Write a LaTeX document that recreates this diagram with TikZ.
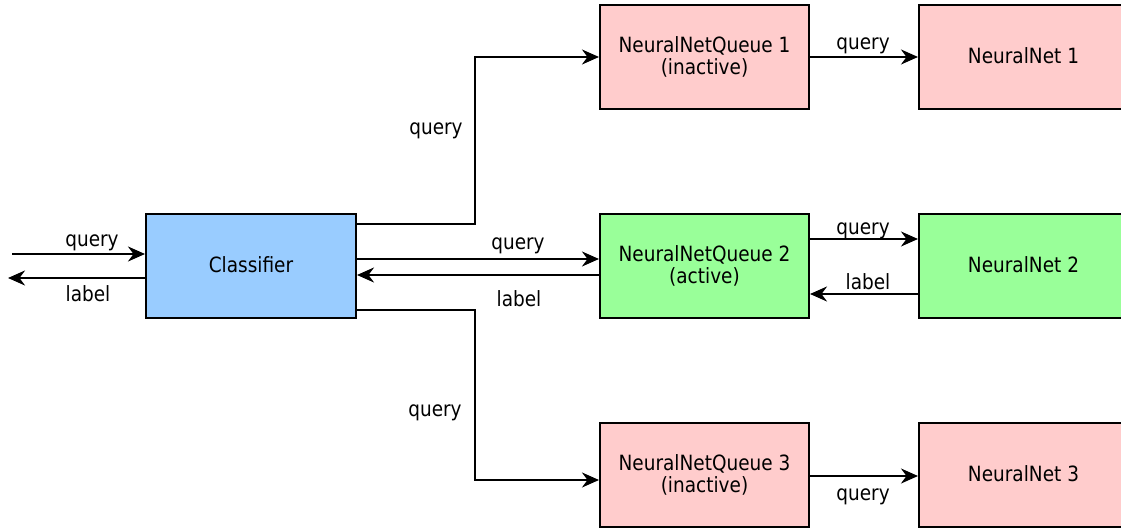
\documentclass[tikz,border=0pt]{standalone}
\usepackage{fontspec}
\setmainfont{DejaVu Sans}[FakeStretch=0.88]
\usetikzlibrary{arrows.meta}
\definecolor{inactivebox}{HTML}{FFCCCC}
\definecolor{activebox}{HTML}{99FF99}
\definecolor{classbox}{HTML}{99CCFF}
\tikzset{
  box/.style={draw=black, line width=2pt, minimum width=209pt, minimum height=104pt,
    inner sep=0pt, align=center, font=\fontsize{21}{21.5}\selectfont},
  single/.style={text depth=3pt},
  flow/.style={draw=black, line width=2pt, -{Stealth[length=17pt,width=15pt,inset=5.5pt]}},
  tag/.style={font=\fontsize{21}{22}\selectfont, inner sep=0pt, anchor=base}
}
\begin{document}
\begin{tikzpicture}[x=1pt,y=-1pt]
\useasboundingbox (0,0) rectangle (1121,529);
\clip (0,0) rectangle (1121,529);

% boxes
\node[box, single, fill=classbox, minimum width=210pt] (cls) at (251,266) {Classifier};
\node[box, fill=inactivebox] (q1) at (704.5,57) {NeuralNetQueue 1\\(inactive)};
\node[box, fill=activebox]   (q2) at (704.5,266) {NeuralNetQueue 2\\(active)};
\node[box, fill=inactivebox] (q3) at (704.5,475) {NeuralNetQueue 3\\(inactive)};
\node[box, single, fill=inactivebox] (n1) at (1023.5,57) {NeuralNet 1};
\node[box, single, fill=activebox]   (n2) at (1023.5,266) {NeuralNet 2};
\node[box, single, fill=inactivebox] (n3) at (1023.5,475) {NeuralNet 3};

% outside world
\coordinate (in) at (12,254);
\coordinate (out) at (8,278);
\draw[flow] (in) -- ([yshift=12pt]cls.west);
\draw[flow] ([yshift=-12pt]cls.west) -- (out);
\node[tag] (tin) at (92,246.5) {query};
\node[tag] (tout) at (88,301.5) {label};

% classifier to queues
\draw[flow] ([yshift=42pt]cls.east) -- ++(118,0) |- (q1.west);
\draw[flow] ([yshift=7pt]cls.east) -- ([yshift=7pt]q2.west);
\draw[flow] ([yshift=-9pt]q2.west) -- ([yshift=-9pt]cls.east);
\draw[flow] ([yshift=-44pt]cls.east) -- ++(118,0) |- ([yshift=-5pt]q3.west);
\node[tag] (t1) at (436,135) {query};
\node[tag] (t2) at (518,250) {query};
\node[tag] (t3) at (519,306) {label};
\node[tag] (t4) at (435,416.5) {query};

% queues to networks
\draw[flow] (q1.east) -- (n1.west);
\draw[flow] ([yshift=27pt]q2.east) -- ([yshift=27pt]n2.west);
\draw[flow] ([yshift=-28pt]n2.west) -- ([yshift=-28pt]q2.east);
\draw[flow] ([yshift=-1pt]q3.east) -- ([yshift=-1pt]n3.west);
\node[tag] (t5) at (863,50) {query};
\node[tag] (t6) at (863,234.5) {query};
\node[tag] (t7) at (868,290) {label};
\node[tag] (t8) at (863,500) {query};
\end{tikzpicture}
\end{document}
